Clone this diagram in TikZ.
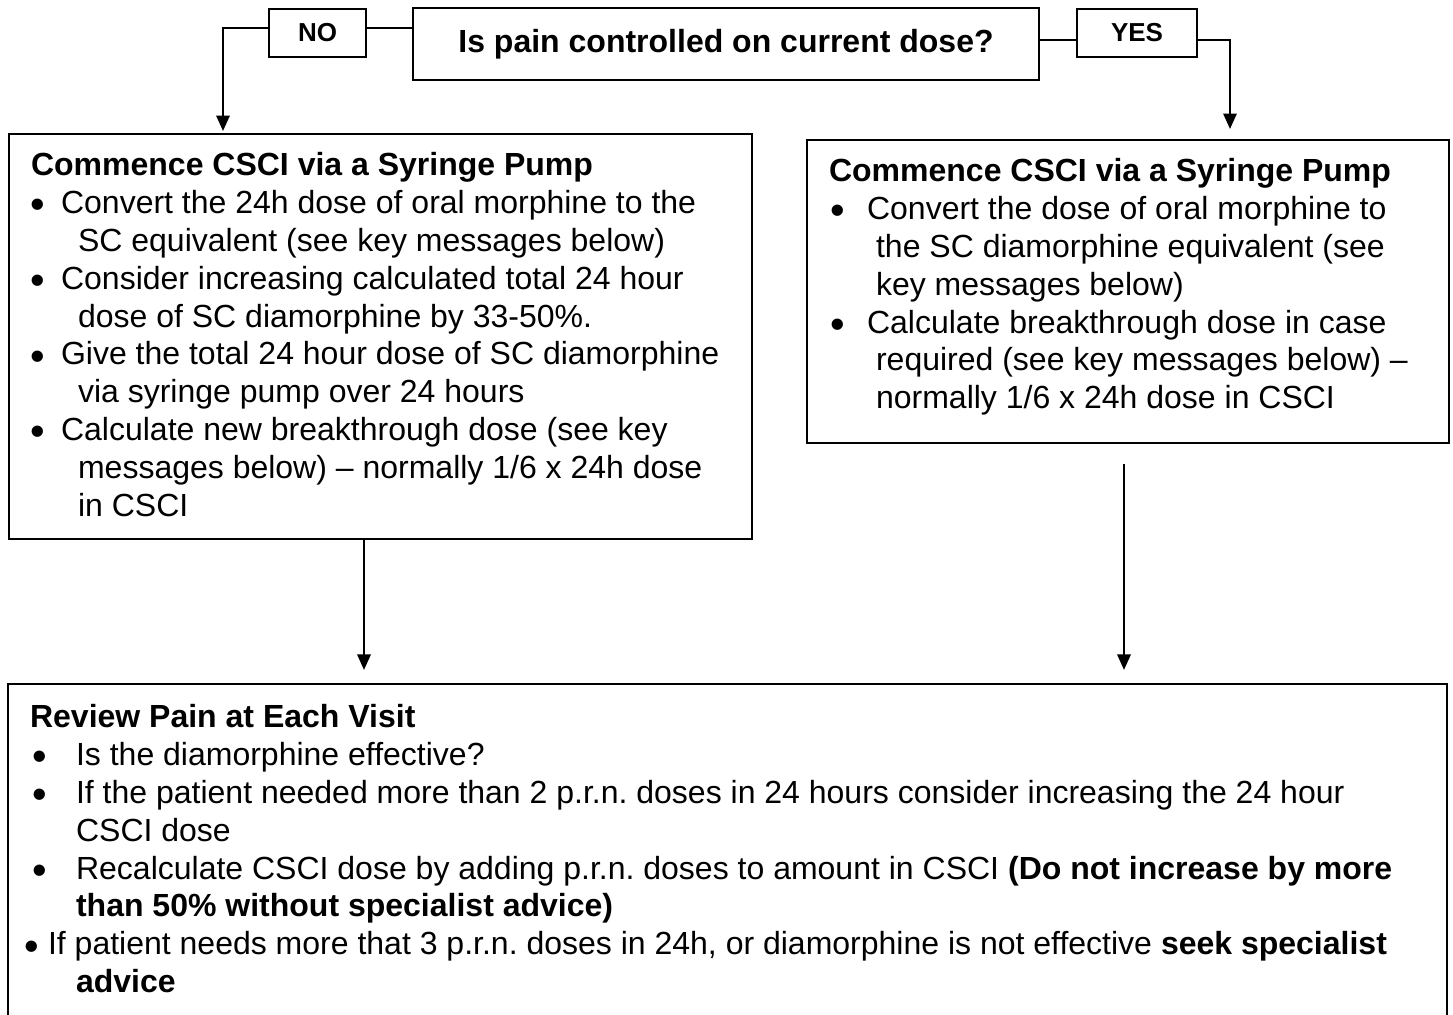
\documentclass[tikz,border=0pt]{standalone}
\usepackage{fontspec}
\setmainfont{Liberation Sans}
\usepackage{graphicx}
\usetikzlibrary{arrows.meta,positioning}
\definecolor{PcInk}{RGB}{0,0,0}
\newlength{\pcpx}
\setlength{\pcpx}{0.375pt}
\newcommand{\pcdot}{\makebox[0pt][c]{\raisebox{-2pt}{\scalebox{1.3}{•}}}}
\newcommand{\pcitem}[3]{\hspace*{#1\pcpx}\pcdot\hspace*{#2\pcpx}#3}
\newcommand{\pcmore}[2]{\hspace*{#1\pcpx}#2}
\frenchspacing
\tikzset{
  pc/box/.style={
    draw=PcInk,
    line width=0.8pt,
    fill=white,
    anchor=north west,
    inner xsep=22\pcpx,
    inner ysep=15\pcpx,
    font=\fontsize{12}{14.2}\selectfont
  },
  pc/question/.style={
    draw=PcInk,
    line width=0.8pt,
    fill=white,
    minimum width=626\pcpx,
    minimum height=72\pcpx,
    font=\fontsize{12}{14.2}\selectfont\bfseries
  },
  pc/answer/.style={
    draw=PcInk,
    line width=0.8pt,
    fill=white,
    minimum height=48\pcpx,
    font=\fontsize{9.75}{11}\selectfont\bfseries
  },
  pc/arrow/.style={-{Triangle[length=5.8pt,width=5pt]}, line width=0.8pt, draw=PcInk},
  pc/line/.style={line width=0.8pt, draw=PcInk}
}

\begin{document}
\begin{tikzpicture}[x=0.375pt,y=-0.375pt]
  \useasboundingbox (0,0) rectangle (1453,1015);
  \clip (0,0) rectangle (1453,1015);

  % question and answers
  \node[pc/question] (question) at (726,44) {Is pain controlled on current dose?};
  \node[pc/answer,minimum width=97\pcpx] (no) at (317.5,33) {NO};
  \node[pc/answer,minimum width=120\pcpx] (yes) at (1137,33) {YES};

  % not controlled
  \node[pc/box] (cscileft) at (8,133) {\parbox[c][375\pcpx][t]{699\pcpx}{\raggedright
    \strut\textbf{Commence CSCI via a Syringe Pump}\\
    \pcitem{7}{23}{Convert the 24h dose of oral morphine to the}\\
    \pcmore{47}{SC equivalent (see key messages below)}\\
    \pcitem{7}{23}{Consider increasing calculated total 24 hour}\\
    \pcmore{47}{dose of SC diamorphine by 33-50\%.}\\
    \pcitem{7}{23}{Give the total 24 hour dose of SC diamorphine}\\
    \pcmore{47}{via syringe pump over 24 hours}\\
    \pcitem{7}{23}{Calculate new breakthrough dose (see key}\\
    \pcmore{47}{messages below) -- normally 1/6 x 24h dose}\\
    \pcmore{47}{in CSCI}}};

  % controlled
  \node[pc/box] (csciright) at (806,139) {\parbox[c][273\pcpx][t]{598\pcpx}{\raggedright
    \strut\textbf{Commence CSCI via a Syringe Pump}\\
    \pcitem{9}{29}{Convert the dose of oral morphine to}\\
    \pcmore{47}{the SC diamorphine equivalent (see}\\
    \pcmore{47}{key messages below)}\\
    \pcitem{9}{29}{Calculate breakthrough dose in case}\\
    \pcmore{47}{required (see key messages below) --}\\
    \pcmore{47}{normally 1/6 x 24h dose in CSCI}}};

  % review (runs off the page)
  \node[pc/box,inner ysep=17\pcpx] (review) at (7,683) {\parbox[c][330\pcpx][t]{1395\pcpx}{\raggedright
    \strut\textbf{Review Pain at Each Visit}\\
    \pcitem{10}{36}{Is the diamorphine effective?}\\
    \pcitem{10}{36}{If the patient needed more than 2 p.r.n. doses in 24 hours consider increasing the 24 hour}\\
    \pcmore{46}{CSCI dose}\\
    \pcitem{10}{36}{Recalculate CSCI dose by adding p.r.n. doses to amount in CSCI \textbf{(Do not increase by more}}\\
    \pcmore{46}{\textbf{than 50\% without specialist advice)}}\\
    \pcitem{2}{16}{If patient needs more that 3 p.r.n. doses in 24h, or diamorphine is not effective \textbf{seek specialist}}\\
    \pcmore{46}{\textbf{advice}}}};

  \coordinate (nolevel) at (0,28);
  \coordinate (yeslevel) at (0,40);
  \coordinate (noend) at (223,131);
  \coordinate (yesend) at (1230,129);
  \coordinate (leftdrop) at (364,0);
  \coordinate (rightdrop) at (1124,0);

  \draw[pc/arrow] (no.west |- nolevel) -| (noend);
  \draw[pc/line] (no.east |- nolevel) -- (question.west |- nolevel);
  \draw[pc/line] (question.east |- yeslevel) -- (yes.west |- yeslevel);
  \draw[pc/arrow] (yes.east |- yeslevel) -| (yesend);
  \draw[pc/arrow,shorten >=4.9pt] (cscileft.south -| leftdrop) -- (review.north -| leftdrop);
  \draw[pc/arrow,shorten <=7.5pt,shorten >=4.9pt] (csciright.south -| rightdrop) -- (review.north -| rightdrop);
\end{tikzpicture}
\end{document}
